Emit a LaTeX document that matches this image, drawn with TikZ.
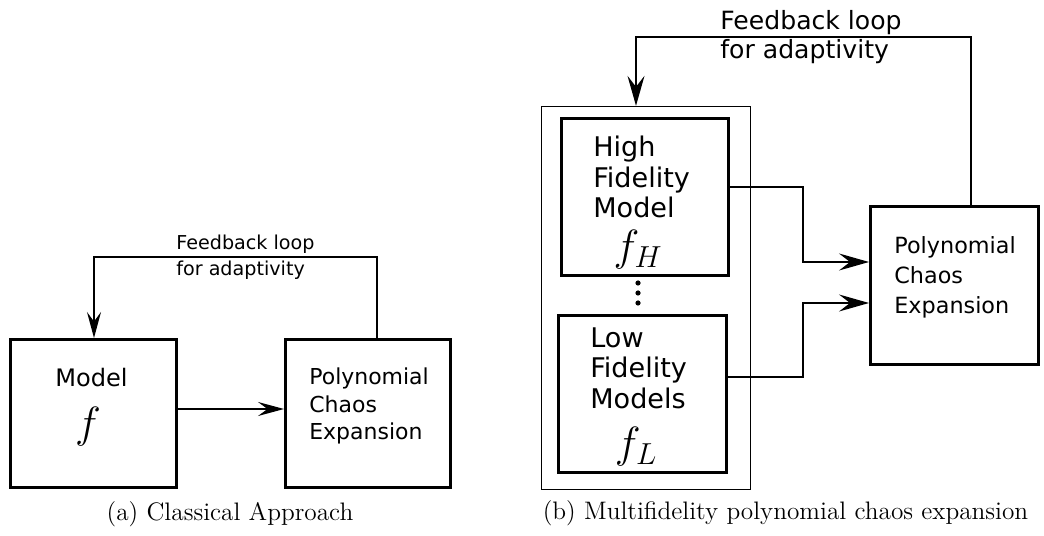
\documentclass[tikz,border=0pt]{standalone}
\usepackage{amssymb}
\usepackage{fontspec}
\newfontfamily\dvsans{DejaVu Sans}
\usepackage{tikz}
\usetikzlibrary{arrows.meta}
\tikzset{>={Stealth[length=0.6cm,width=0.34cm,inset=0.22cm]}}
\tikzset{
    box/.style={draw, line width=1.7pt, inner sep=0pt},
    frame/.style={draw, line width=0.8pt, inner sep=0pt},
    link/.style={line width=0.8pt, ->},
    small/.style={line width=0.8pt, -{Stealth[length=0.52cm,width=0.28cm,inset=0.19cm]}},
    txt/.style={anchor=west, align=left, inner sep=0pt, font=\dvsans},
    mth/.style={inner sep=0pt, font=\fontsize{24}{28}\selectfont},
    capt/.style={inner sep=0pt, font=\fontsize{14.4}{17}\selectfont}
}

\begin{document}
\begin{tikzpicture}[x=0.02cm,y=-0.02cm]
            \useasboundingbox (0,0) rectangle (1044,536);
            % (a) classical approach
            \node[box, minimum width=3.32cm, minimum height=2.96cm] (m) at (93.5,413.5) {};
            \node[box, minimum width=3.30cm, minimum height=2.96cm] (p) at (368,413.5) {};
            \node[txt, font=\dvsans\fontsize{13.7}{16}\selectfont] (mt) at (55,378) {Model};
            \node[mth] (mf) at (88,427) {$f$};
            \node[txt, font=\dvsans\fontsize{12.5}{15.9}\selectfont] (pt) at (309,406) {Polynomial\\Chaos\\Expansion};
            \node[txt, font=\dvsans\fontsize{10.9}{14.8}\selectfont] (fb) at (176,257) {Feedback loop\\for adaptivity};
            \coordinate (ay) at (0,409);
            \coordinate (fr) at (377,257);
            \coordinate (fl) at (94,257);
            \draw[small] (m.east |- ay) -- (p.west |- ay);
            \draw[small] (p.north -| fr) -- (fr) -- (fl) -- (fl |- m.north);
            \node[capt] (ca) at (230,514) {(a) Classical Approach};
            % (b) multifidelity
            \node[frame, minimum width=4.17cm, minimum height=7.66cm] (fm) at (646,298) {};
            \node[box, minimum width=3.34cm, minimum height=3.14cm] (hf) at (645,197) {};
            \node[box, minimum width=3.36cm, minimum height=3.14cm] (lf) at (642.5,394) {};
            \node[box, minimum width=3.36cm, minimum height=3.16cm] (q) at (954.5,285.5) {};
            \node[txt, font=\dvsans\fontsize{15.4}{17.4}\selectfont] (ht) at (593,177) {High\\Fidelity\\Model};
            \node[mth] (hfm) at (638,250) {$f_H$};
            \node[txt, font=\dvsans\fontsize{15.4}{17.4}\selectfont] (lt) at (590,368) {Low\\Fidelity\\Models};
            \node[mth] (lfm) at (636,447) {$f_L$};
            \node[txt, font=\dvsans\fontsize{12.7}{17}\selectfont] (qt) at (894,277) {Polynomial\\Chaos\\Expansion};
            \node[txt, font=\dvsans\fontsize{14.3}{16.5}\selectfont] (fb2) at (720,37) {Feedback loop\\for adaptivity};
            \foreach \y in {283,293,303}
                \fill (638,\y) circle (2.6);
            \coordinate (h1) at (803,187);
            \coordinate (h2) at (803,262);
            \coordinate (l1) at (803,377);
            \coordinate (l2) at (803,303);
            \coordinate (gr) at (971,37);
            \coordinate (gl) at (636,37);
            \draw[link] (hf.east |- h1) -- (h1) -- (h2) -- (q.west |- h2);
            \draw[link] (lf.east |- l1) -- (l1) -- (l2) -- (q.west |- l2);
            \draw[link] (q.north -| gr) -- (gr) -- (gl) -- (gl |- fm.north);
            \node[capt] (cb) at (785.5,513) {(b) Multifidelity polynomial chaos expansion};
        \end{tikzpicture}
\end{document}
